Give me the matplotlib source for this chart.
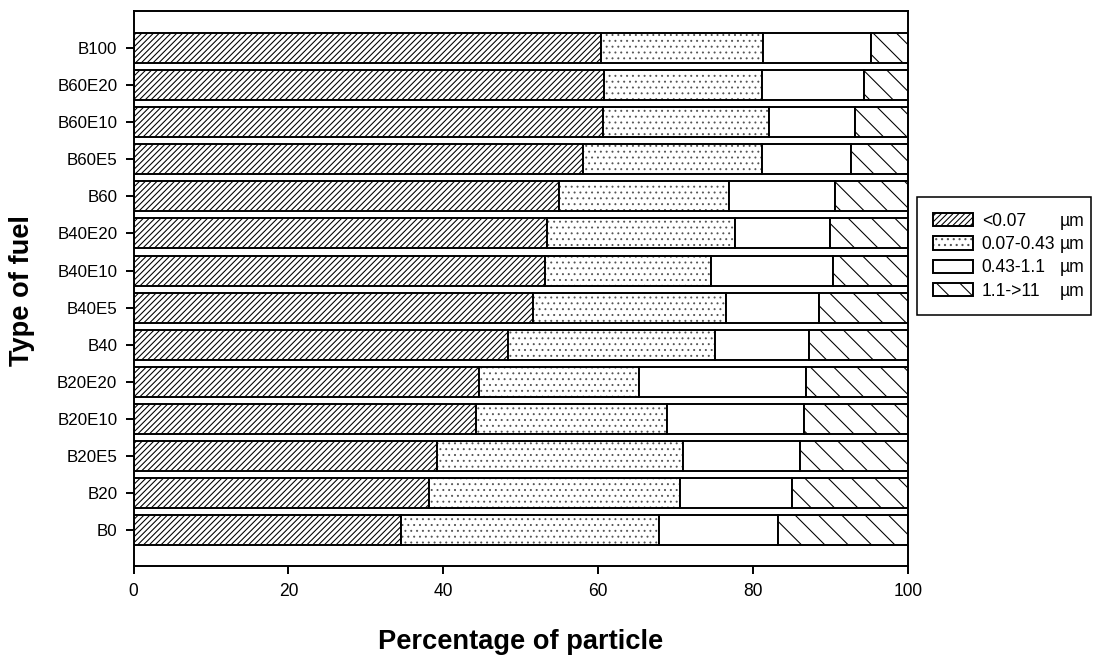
import numpy as np
import matplotlib.pyplot as plt
from matplotlib.patches import Rectangle

plt.rcParams['font.family'] = ['Liberation Sans', 'DejaVu Sans']

# fuel types, bottom to top
fuels = ['B0', 'B20', 'B20E5', 'B20E10', 'B20E20', 'B40', 'B40E5',
         'B40E10', 'B40E20', 'B60', 'B60E5', 'B60E10', 'B60E20', 'B100']

# percentage of particles per size class
size_lt007 = [34.5, 38.2, 39.2, 44.2, 44.6, 48.4, 51.6, 53.1, 53.4, 54.9, 58.0, 60.6, 60.8, 60.4]
size_007_043 = [33.4, 32.4, 31.8, 24.7, 20.7, 26.7, 24.9, 21.4, 24.2, 22.0, 23.1, 21.5, 20.4, 20.9]
size_043_11 = [15.3, 14.4, 15.1, 17.7, 21.5, 12.1, 12.0, 15.8, 12.3, 13.7, 11.6, 11.0, 13.1, 13.9]
size_11_11 = [16.8, 15.0, 13.9, 13.4, 13.2, 12.8, 11.5, 9.7, 10.1, 9.4, 7.3, 6.9, 5.7, 4.8]

labels = ['<0.07', '0.07-0.43', '0.43-1.1', '1.1->11']
hatches = ['////////', '....', '', '\\\\']
hatch_colors = ['black', '#555555', 'black', 'black']
hatch_widths = [0.55, 0.45, 0.55, 0.55]

dpi = 140
W, H = 1094, 657
fig = plt.figure(figsize=(W / dpi, H / dpi), dpi=dpi)
ax = fig.add_axes([133.5 / W, 1 - 566 / H, (908 - 133.5) / W, (566 - 11) / H])

y = np.arange(len(fuels))
left = np.zeros(len(fuels))
handles = []
for vals, lab, h, hc, hw in zip([size_lt007, size_007_043, size_043_11, size_11_11],
                                labels, hatches, hatch_colors, hatch_widths):
    plt.rcParams['hatch.linewidth'] = hw
    # hatch layer, then a black outline on top
    fill = ax.barh(y, vals, left=left, height=0.81, color='white', edgecolor=hc,
                   linewidth=0, hatch=h)
    edge = ax.barh(y, vals, left=left, height=0.81, fill=False, edgecolor='black',
                   linewidth=1.0)
    handles.append((fill, edge))
    left += np.array(vals)

ax.set_xlim(0, 100)
ax.set_ylim(-0.97, 14.0)
ax.set_xticks([0, 20, 40, 60, 80, 100])
ax.set_yticks(y)
ax.set_yticklabels(fuels)
ax.tick_params(direction='out', length=4.3, width=1.0)
ax.tick_params(axis='y', labelsize=8.7, pad=4.0)
ax.tick_params(axis='x', labelsize=9.0, pad=4.5)
for s in ax.spines.values():
    s.set_linewidth(1.0)

fig.text(521 / W, 1 - 642 / H, 'Percentage of particle', ha='center', va='center',
         fontsize=14, fontweight='bold')
fig.text(22 / W, 1 - 291 / H, 'Type of fuel', ha='center', va='center',
         rotation=90, fontsize=14, fontweight='bold')

leg = fig.legend(handles=handles, labels=labels, loc='upper left',
                 bbox_to_anchor=(917 / W, 1 - 197 / H), fontsize=9,
                 frameon=False, handlelength=2.3, handleheight=0.8, handletextpad=0.5,
                 labelspacing=0.36, borderpad=0.9, borderaxespad=0)

# the unit sits in its own column, and the box runs to the right edge
fig.canvas.draw()
renderer = fig.canvas.get_renderer()
lb = leg.get_window_extent(renderer)
for t in leg.get_texts():
    bb = t.get_window_extent(renderer)
    fig.text(1060 / W, (bb.y0 + bb.y1) / 2 / H, '\u00b5m',
             ha='left', va='center', fontsize=9)
x0 = 917 / W
y0 = lb.y0 / H
fig.patches.append(Rectangle((x0, y0), 1091 / W - x0, lb.y1 / H - y0,
                             transform=fig.transFigure, fill=False,
                             edgecolor='black', linewidth=0.8))

fig.savefig('out.png', dpi=dpi)
